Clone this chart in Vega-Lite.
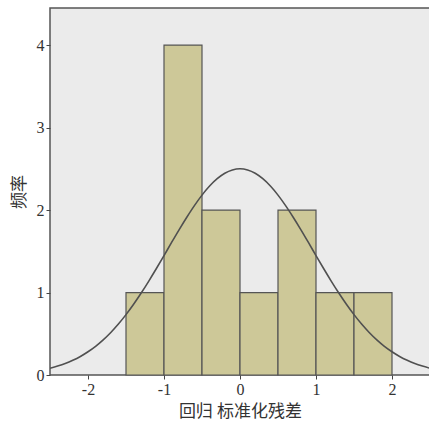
{
  "$schema": "https://vega.github.io/schema/vega-lite/v6.json",
  "autosize": "none",
  "width": 380,
  "height": 367,
  "padding": {"left": 50, "top": 8, "right": 0, "bottom": 55},
  "background": "white",
  "config": {
    "view": {"fill": "#ebebeb", "stroke": "#555555", "strokeWidth": 1.5},
    "axis": {
      "grid": false,
      "domain": false,
      "tickColor": "#444444",
      "tickSize": 4,
      "labelFont": "Liberation Serif",
      "labelFontSize": 16,
      "labelColor": "#333333",
      "titleFont": "Liberation Serif, Noto Sans CJK SC",
      "titleFontSize": 17,
      "titleFontWeight": "normal",
      "titleColor": "#333333"
    }
  },
  "datasets": {
    "bins": [
      {"start": -1.5, "end": -1.0, "count": 1},
      {"start": -1.0, "end": -0.5, "count": 4},
      {"start": -0.5, "end": 0.0, "count": 2},
      {"start": 0.0, "end": 0.5, "count": 1},
      {"start": 0.5, "end": 1.0, "count": 2},
      {"start": 1.0, "end": 1.5, "count": 1},
      {"start": 1.5, "end": 2.0, "count": 1}
    ],
    "curve": [
      {"x": -2.5, "y": 0.082}, {"x": -2.4, "y": 0.108}, {"x": -2.3, "y": 0.139}, {"x": -2.2, "y": 0.178},
      {"x": -2.1, "y": 0.225}, {"x": -2.0, "y": 0.282}, {"x": -1.9, "y": 0.348}, {"x": -1.8, "y": 0.426},
      {"x": -1.7, "y": 0.516}, {"x": -1.6, "y": 0.618}, {"x": -1.5, "y": 0.732}, {"x": -1.4, "y": 0.858},
      {"x": -1.3, "y": 0.994}, {"x": -1.2, "y": 1.139}, {"x": -1.1, "y": 1.291}, {"x": -1.0, "y": 1.448},
      {"x": -0.9, "y": 1.607}, {"x": -0.8, "y": 1.763}, {"x": -0.7, "y": 1.913}, {"x": -0.6, "y": 2.054},
      {"x": -0.5, "y": 2.181}, {"x": -0.4, "y": 2.291}, {"x": -0.3, "y": 2.380}, {"x": -0.2, "y": 2.446},
      {"x": -0.1, "y": 2.486}, {"x": 0.0, "y": 2.5}, {"x": 0.1, "y": 2.486}, {"x": 0.2, "y": 2.446},
      {"x": 0.3, "y": 2.380}, {"x": 0.4, "y": 2.291}, {"x": 0.5, "y": 2.181}, {"x": 0.6, "y": 2.054},
      {"x": 0.7, "y": 1.913}, {"x": 0.8, "y": 1.763}, {"x": 0.9, "y": 1.607}, {"x": 1.0, "y": 1.448},
      {"x": 1.1, "y": 1.291}, {"x": 1.2, "y": 1.139}, {"x": 1.3, "y": 0.994}, {"x": 1.4, "y": 0.858},
      {"x": 1.5, "y": 0.732}, {"x": 1.6, "y": 0.618}, {"x": 1.7, "y": 0.516}, {"x": 1.8, "y": 0.426},
      {"x": 1.9, "y": 0.348}, {"x": 2.0, "y": 0.282}, {"x": 2.1, "y": 0.225}, {"x": 2.2, "y": 0.178},
      {"x": 2.3, "y": 0.139}, {"x": 2.4, "y": 0.108}, {"x": 2.5, "y": 0.082}
    ]
  },
  "layer": [
    {
      "data": {"name": "bins"},
      "mark": {"type": "rect", "fill": "#cdc898", "stroke": "#555555", "strokeWidth": 1.2},
      "encoding": {
        "x": {
          "field": "start", "type": "quantitative",
          "scale": {"domain": [-2.5, 2.5], "nice": false, "zero": false},
          "axis": {
            "values": [-2, -1, 0, 1, 2],
            "labelExpr": "datum.value < 0 ? '-' + abs(datum.value) : '' + datum.value",
            "title": "回归 标准化残差", "labelPadding": 2, "titlePadding": 6
          }
        },
        "x2": {"field": "end"},
        "y": {
          "field": "count", "type": "quantitative",
          "scale": {"domain": [0, 4.45], "nice": false},
          "axis": {
            "values": [0, 1, 2, 3, 4],
            "labelExpr": "'' + datum.value",
            "title": "频率", "labelPadding": 2, "titlePadding": 8
          }
        },
        "y2": {"datum": 0}
      }
    },
    {
      "data": {"name": "curve"},
      "mark": {"type": "line", "color": "#505050", "strokeWidth": 1.6, "interpolate": "monotone", "clip": true},
      "encoding": {
        "x": {"field": "x", "type": "quantitative"},
        "y": {"field": "y", "type": "quantitative"}
      }
    }
  ]
}
